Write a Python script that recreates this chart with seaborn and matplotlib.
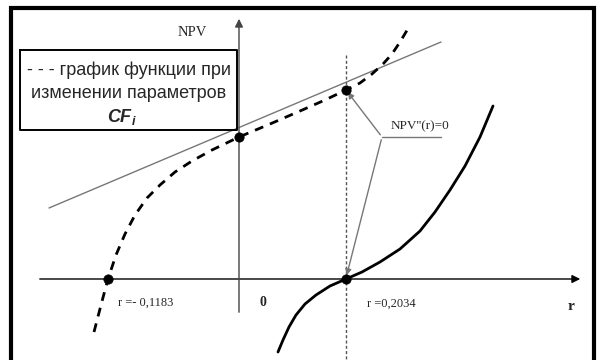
import matplotlib
matplotlib.use("Agg")
import matplotlib.pyplot as plt
import seaborn as sns
import pandas as pd
import numpy as np

# ---- data (picture units: origin at the axis crossing) ----
dashed_x = [-145, -138, -131, -123, -114, -104, -92, -79, -64, -47, -27, 0,
            31, 61, 86, 107, 121, 133, 144, 153, 161, 170]
dashed_y = [-53, -26, 0, 24, 45, 64, 81, 94, 107, 118, 129, 142,
            155, 168, 179, 189, 196, 205, 215, 225, 237, 252]

solid_x = [39, 44, 50, 57, 66, 77, 91, 107, 123, 141, 161, 181, 196, 211, 226, 241, 254]
solid_y = [-73, -61, -48, -36, -25, -16, -7, 0, 7, 17, 30, 48, 67, 89, 113, 142, 173]

tangent_x = [-190, 202]
tangent_y = [71, 237]

points_x = [0, 107, 107, -131]
points_y = [142, 189, 0, 0]

root_labels = ["r =- 0,1183", "r =0,2034"]
legend_lines = ["- - - график функции при", "изменении параметров"]

sns.set_style("white")
plt.rcParams['font.family'] = ['Liberation Sans', 'DejaVu Sans']

fig = plt.figure(figsize=(5.97, 3.6), dpi=100)
ax = fig.add_axes([0, 0, 1, 1])
ax.set_xlim(-239, 358)
ax.set_ylim(-81, 279)
ax.axis("off")

# frame (top, left, right)
ax.plot([-228, -228, 355, 355], [-90, 271, 271, -90], color="black", lw=3.0,
        solid_joinstyle="miter", clip_on=False)

# axes with arrows
ax.annotate("", xy=(344, 0), xytext=(-202, 0),
            arrowprops=dict(arrowstyle="-|>", color="black", lw=1.0, mutation_scale=12))
ax.annotate("", xy=(0, 263), xytext=(0, -36),
            arrowprops=dict(arrowstyle="-|>", color="#444444", lw=1.0, mutation_scale=12))

# vertical dotted line at inflection
ax.plot([107, 107], [224, -90], color="#555555", lw=1.0, ls=(0, (2.2, 1.6)))

# tangent line
sns.lineplot(x=tangent_x, y=tangent_y, ax=ax, color="#777777", lw=1.0, sort=False)

# curves
sns.lineplot(x=dashed_x, y=dashed_y, ax=ax, color="black", lw=2.0, sort=False,
             linestyle=(0, (3.2, 2.6)))
sns.lineplot(x=solid_x, y=solid_y, ax=ax, color="black", lw=2.0, sort=False)

# points
sns.scatterplot(x=points_x, y=points_y, ax=ax, color="black", s=45, edgecolor="black", zorder=5)

# annotation NPV''(r)=0
ax.plot([143, 202], [142, 142], color="#777777", lw=1.0)
ax.annotate("", xy=(points_x[1], points_y[1]), xytext=(143, 142),
            arrowprops=dict(arrowstyle="-|>", color="#777777", lw=1.0, mutation_scale=9))
ax.annotate("", xy=(points_x[2], points_y[2] + 1), xytext=(143, 142),
            arrowprops=dict(arrowstyle="-|>", color="#777777", lw=1.0, mutation_scale=9))
ax.text(152, 153, "NPV''(r)=0", family=["Liberation Serif"], fontsize=9.5, va="center", ha="left")

# axis labels
ax.text(-47, 246, "NPV", family=["Liberation Serif"], fontsize=10.5, ha="center", va="center")
ax.text(332, -28, "r", family=["Liberation Serif"], fontsize=11, fontweight="bold", ha="center", va="center")
ax.text(24, -24, "0", family=["Liberation Serif"], fontsize=10, fontweight="bold", ha="center", va="center")
ax.text(-121, -24, root_labels[0], family=["Liberation Serif"], fontsize=9, ha="left", va="center")
ax.text(128, -25, root_labels[1], family=["Liberation Serif"], fontsize=9, ha="left", va="center")

# legend box
ax.plot([-219, -2, -2, -219, -219], [229, 229, 149, 149, 229], color="black", lw=1.4)
ax.text(-110, 209, legend_lines[0], fontsize=13, ha="center", va="center")
ax.text(-110, 185, legend_lines[1], fontsize=13, ha="center", va="center")
ax.text(-108, 162, "CF", fontsize=13, fontweight="bold", style="italic", ha="right", va="center")
ax.text(-107, 157, "i", fontsize=9, fontweight="bold", style="italic", ha="left", va="center")

fig.savefig("out.png", dpi=100)
